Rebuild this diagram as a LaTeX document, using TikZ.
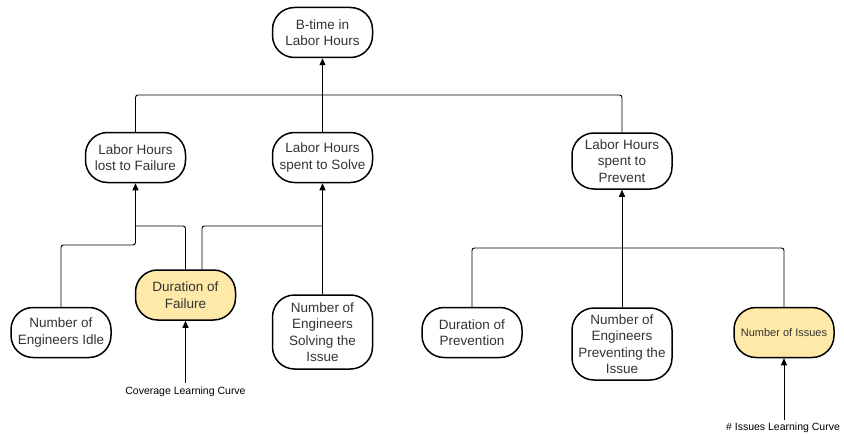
\documentclass[tikz,border=0pt]{standalone}
\usepackage{fontspec}
\setmainfont{Liberation Sans}
\usetikzlibrary{arrows.meta}
\definecolor{boxyellow}{HTML}{FFE9A8}
\definecolor{boxtext}{HTML}{333333}
\tikzset{
  var/.style={draw=black,line width=1.5pt,rounded corners=22pt,minimum width=100pt,
    minimum height=50pt,align=center,text=boxtext,inner sep=2pt,
    font=\fontsize{13.5}{16.5}\selectfont},
  key/.style={var,fill=boxyellow},
  curve/.style={font=\fontsize{10.5}{12}\selectfont,text=black,inner sep=1pt},
  link/.style={line width=0.9pt,rounded corners=2.5pt},
  feed/.style={link,-{Triangle[length=7pt,width=6pt]}}
}
\begin{document}
\begin{tikzpicture}[x=1pt,y=-1pt]
  \useasboundingbox (0,0) rectangle (844,436);
  % top
  \node[var] (btime) at (322.5,32.5) {B-time in\\Labor Hours};
  % middle row
  \node[var] (lost) at (135.5,157.5) {Labor Hours\\lost to Failure};
  \node[var] (solve) at (322.5,157.5) {Labor Hours\\spent to Solve};
  \node[var,minimum height=56pt] (prevent) at (622,161) {Labor Hours\\spent to\\Prevent};
  % bottom row
  \node[var] (idle) at (61,332.5) {Number of\\Engineers Idle};
  \node[key] (durfail) at (185.5,295) {Duration of\\Failure};
  \node[var,minimum height=74pt] (nsolve) at (322.5,332) {Number of\\Engineers\\Solving the\\Issue};
  \node[var] (durprev) at (472,332.5) {Duration of\\Prevention};
  \node[var,minimum height=72pt] (nprev) at (622,344) {Number of\\Engineers\\Preventing the\\Issue};
  \node[key,font=\fontsize{11}{13}\selectfont] (nissues) at (784,332.5) {Number of Issues};
  % learning curves
  \node[curve] (covcurve) at (185.5,391.5) {Coverage Learning Curve};
  \node[curve] (isscurve) at (783,428) {\# Issues Learning Curve};

  % junctions
  \coordinate (topbar) at (0,95);
  \coordinate (failbar) at (0,226);
  \coordinate (idlebar) at (0,245);
  \coordinate (prevbar) at (0,248);

  % connectors
  \draw[feed] (solve.north) -- (btime.south);
  \draw[link] (lost.north) |- (topbar -| prevent.north) -- (prevent.north);
  \draw[feed] (idle.north) |- (idlebar -| lost.south) -- (lost.south);
  \draw[link] (durfail.north) |- (failbar -| lost.south);
  \draw[link] ([xshift=16.5pt]durfail.north) |- (failbar -| solve.south);
  \draw[feed] (nsolve.north) -- (solve.south);
  \draw[link] (durprev.north) |- (prevbar -| nprev.north);
  \draw[link] (nissues.north) |- (prevbar -| nprev.north);
  \draw[feed] (nprev.north) -- (prevent.south);
  \draw[feed] (covcurve.north) ++(0,-2) -- (durfail.south);
  \draw[feed] (isscurve.north) ++(1,-2) -- (nissues.south);
\end{tikzpicture}
\end{document}
